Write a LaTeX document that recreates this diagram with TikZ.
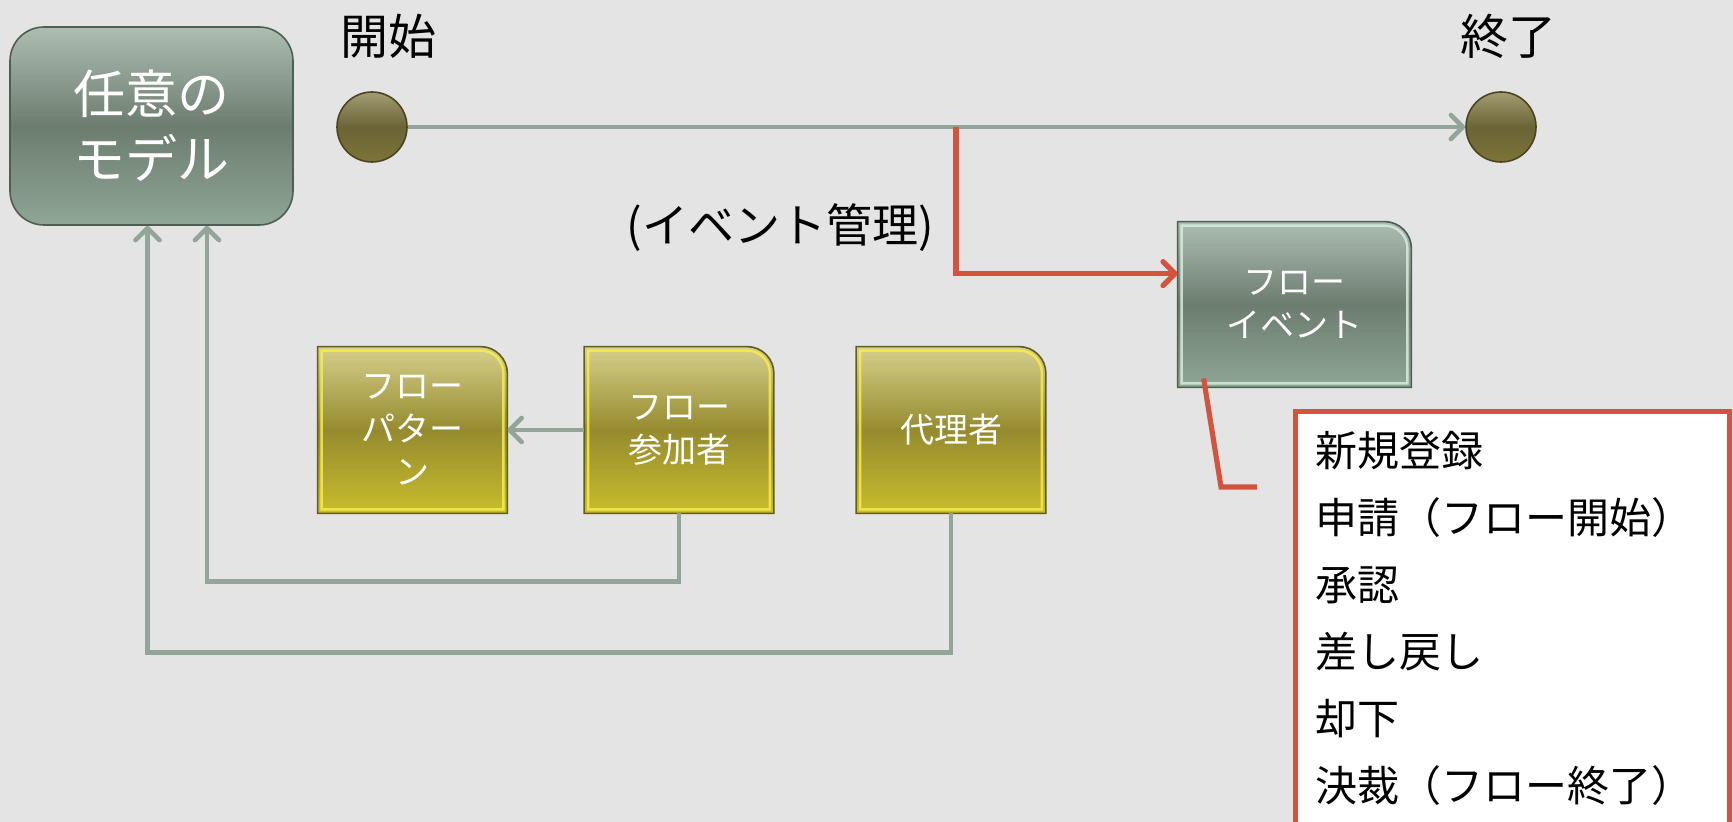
\documentclass[tikz,border=0pt]{standalone}
\usepackage{fontspec}
\setmainfont{Noto Sans CJK JP}
\usetikzlibrary{arrows.meta,calc,backgrounds}
\definecolor{bgc}{HTML}{E4E4E4}
\definecolor{connc}{HTML}{93A499}
\definecolor{redc}{HTML}{D2543F}
\definecolor{gtop}{HTML}{AEBDB2}
\definecolor{gmid}{HTML}{6C7D70}
\definecolor{gbot}{HTML}{8FA595}
\definecolor{gbrd}{HTML}{4E5E52}
\definecolor{grim}{HTML}{D6EDDC}
\definecolor{ytop}{HTML}{D6CF8C}
\definecolor{ymid}{HTML}{958B2E}
\definecolor{ybot}{HTML}{C9BD2C}
\definecolor{ybrd}{HTML}{645C1C}
\definecolor{yglow}{HTML}{F6EE4C}
\definecolor{ctop}{HTML}{A29C72}
\definecolor{cmid}{HTML}{6A6436}
\definecolor{cbot}{HTML}{7E7438}
\definecolor{cbrd}{HTML}{4A4520}
\newcommand\tabshape[6]{%
  \shadedraw[top color=#2,bottom color=#4,middle color=#3,draw=#5,line width=0.8pt]
    (#1.south west) -- (#1.north west) -- ($(#1.north east)+(-27,0)$)
    .. controls ($(#1.north east)+(-12,0)$) and ($(#1.north east)+(0,12)$) .. ($(#1.north east)+(0,27)$)
    -- (#1.south east) -- cycle;
  \draw[#6,line width=1.2pt,opacity=0.85]
    ($(#1.south west)+(4,-4)$) -- ($(#1.north west)+(4,4)$) -- ($(#1.north east)+(-27,4)$)
    .. controls ($(#1.north east)+(-14,4)$) and ($(#1.north east)+(-4,14)$) .. ($(#1.north east)+(-4,27)$)
    -- ($(#1.south east)+(-4,-4)$) -- cycle;}
\begin{document}
\begin{tikzpicture}[x=0.5pt,y=-0.5pt,
  conn/.style={draw=connc,line width=2.3pt,-{Straight Barb[length=6pt,width=12pt,round]}},
  redconn/.style={draw=redc,line width=2.6pt,-{Straight Barb[length=6pt,width=12pt,round]}},
  redline/.style={draw=redc,line width=2.6pt},
  circ/.style={circle,minimum size=35pt,inner sep=0pt,top color=ctop,bottom color=cbot,middle color=cmid,draw=cbrd,line width=0.8pt},
  modelbox/.style={rounded corners=17pt,minimum width=141.5pt,minimum height=99pt,inner sep=0pt,
    top color=gtop,bottom color=gbot,middle color=gmid,draw=gbrd,line width=0.8pt,
    text=white,align=center,font=\fontsize{26}{32.5}\selectfont},
  ybox/.style={minimum width=94.5pt,minimum height=83pt,inner sep=0pt,text=white,align=center,
    font=\fontsize{17}{21.5}\selectfont},
  gbox/.style={minimum width=116.5pt,minimum height=82.5pt,inner sep=0pt,text=white,align=center,
    font=\fontsize{17}{21.5}\selectfont},
  lbl/.style={text=black,inner sep=0pt}
]
\begin{scope}[on background layer]
  \fill[bgc] (0,0) rectangle (1733,822);
\end{scope}
\useasboundingbox (0,0) rectangle (1733,822);

% nodes
\node[modelbox] (model) at (151.5,126) {任意の\\モデル};
\node[circ] (st) at (372,127) {};
\node[circ] (en) at (1501,127) {};
\node[lbl,font=\fontsize{24}{24}\selectfont] (lstart) at (388,36) {開始};
\node[lbl,font=\fontsize{24}{24}\selectfont] (lend) at (1508,36) {終了};
\node[lbl,font=\fontsize{23}{23}\selectfont] (lev) at (780,228) {(イベント管理)};

\node[gbox] (fe) at (1294.5,304.5) {フロー\\イベント};
\node[ybox] (fp) at (412.5,430) {フロー\\パター\\ン};
\node[ybox] (fa) at (679,430) {フロー\\参加者};
\node[ybox] (dr) at (951,430) {代理者};

\begin{scope}[on background layer]
  \tabshape{fe}{gtop}{gmid}{gbot}{gbrd}{grim}
  \tabshape{fp}{ytop}{ymid}{ybot}{ybrd}{yglow}
  \tabshape{fa}{ytop}{ymid}{ybot}{ybrd}{yglow}
  \tabshape{dr}{ytop}{ymid}{ybot}{ybrd}{yglow}
\end{scope}

% event list box
\node[draw=redc,fill=white,line width=2.5pt,minimum width=217pt,minimum height=220pt,
  anchor=north west,inner sep=0pt] (list) at (1293,409) {};
\node[lbl,anchor=north west,align=left,font=\fontsize{21}{33.5}\selectfont] (evts)
  at ($(list.north west)+(22,22)$)
  {新規登録\\申請（フロー開始）\\承認\\差し戻し\\却下\\決裁（フロー終了）};

% connectors
\draw[conn] (st) -- (en);
\coordinate (tap) at (956,127);
\coordinate (fein) at ($(fe.north west)+(0,52)$);
\draw[redconn] (tap) |- (fein);
\coordinate (fb) at ($(fe.south west)+(26,-9)$);
\coordinate (fbend) at (1221,487);
\coordinate (fend) at (1257,487);
\draw[redline,line join=miter] (fb) -- (fbend) -- (fend);

\draw[conn] (fa.west) -- (fp.east);
\draw[conn] (fa.south) -- ++(0,68) -| ($(model.south)+(55.5,0)$);
\draw[conn] (dr.south) -- ++(0,139) -| ($(model.south)+(-4,0)$);
\end{tikzpicture}
\end{document}
